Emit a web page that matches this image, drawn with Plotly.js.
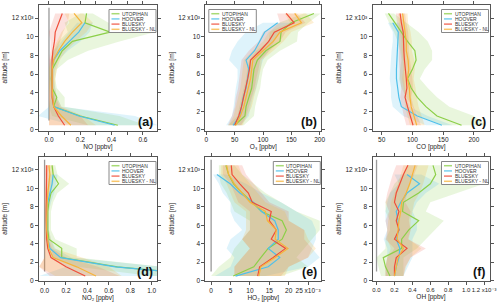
<!DOCTYPE html>
<html><head><meta charset="utf-8">
<script src="https://cdn.plot.ly/plotly-3.0.1.min.js"></script>
<style>html,body{margin:0;padding:0;background:#fff}#chart{width:500px;height:307px}</style>
</head><body><div id="chart"></div>
<script>
// ---------- data ----------
const ALT = [500,1500,2500,3500,4500,5500,6500,7500,8500,9500,10500,11500,12500];
const SERIES = ['UTOPIHAN','HOOVER','BLUESKY','BLUESKY - NL'];
const Y_TICKVALS = [0,2000,4000,6000,8000,10000,12000];
const Y_TICKTEXT = ['0','2','4','6','8','10','12 x10\u00b3'];

// (a) NO [ppbv]
const NO_UTOPIHAN    = [0.44,0.20,0.03,0.05,0.02,0.015,0.02,0.05,0.085,0.15,0.39,0.23,0.24];
const NO_UTOPIHAN_LO = [0.25,0.02,0.0,0.01,0.0,0.0,0.0,0.01,0.03,0.06,0.12,0.10,0.20];
const NO_UTOPIHAN_HI = [0.62,0.45,0.10,0.10,0.05,0.04,0.05,0.12,0.25,0.45,0.68,0.38,0.28];
const NO_HOOVER      = [0.42,0.19,0.03,0.025,0.02,0.02,0.02,0.03,0.07,0.13,0.19,0.23,null];
const NO_HOOVER_LO   = [0.15,-0.07,0.0,0.01,0.01,0.0,0.0,0.01,0.03,0.08,0.13,0.18,null];
const NO_HOOVER_HI   = [0.70,0.55,0.08,0.05,0.04,0.03,0.04,0.06,0.12,0.20,0.26,0.28,null];
const NO_BLUESKY     = [0.10,0.06,0.03,0.02,0.02,0.02,0.02,0.02,0.025,0.035,0.04,0.06,0.085];
const NO_BLUESKY_LO  = [0.0,0.0,0.0,0.0,0.0,0.0,0.0,0.0,0.01,0.01,0.0,0.02,0.04];
const NO_BLUESKY_HI  = [0.25,0.20,0.07,0.04,0.03,0.03,0.03,0.04,0.05,0.07,0.09,0.12,0.13];
const NO_BLUESKY_NL    = [0.14,0.08,0.03,0.025,0.02,0.02,0.02,0.03,0.06,0.10,0.15,0.21,0.16];
const NO_BLUESKY_NL_LO = [0.0,0.0,0.0,0.0,0.0,0.0,0.0,0.01,0.02,0.05,0.08,0.13,0.10];
const NO_BLUESKY_NL_HI = [0.30,0.22,0.08,0.05,0.04,0.04,0.05,0.07,0.11,0.17,0.24,0.28,0.22];

// (b) O3 [ppbv]
const O3_UTOPIHAN    = [50,68,70,75,80,82,84,90,105,130,132,150,190];
const O3_UTOPIHAN_LO = [38,55,58,62,66,70,72,76,88,110,112,128,172];
const O3_UTOPIHAN_HI = [66,84,86,90,95,97,100,108,130,160,162,180,202];
const O3_HOOVER      = [47,59,62,65,70,73,75,70,85,94,103,126,null];
const O3_HOOVER_LO   = [35,45,48,50,52,55,55,40,45,55,70,100,null];
const O3_HOOVER_HI   = [60,75,78,82,88,92,95,100,110,120,130,150,null];
const O3_BLUESKY     = [50,57,62,66,70,73,76,78,95,110,120,155,141];
const O3_BLUESKY_LO  = [38,45,50,52,56,58,60,62,75,92,100,130,125];
const O3_BLUESKY_HI  = [62,70,75,80,85,88,92,95,112,130,140,175,160];
const O3_BLUESKY_NL    = [52,60,66,70,74,78,80,82,100,118,130,168,156];
const O3_BLUESKY_NL_LO = [40,48,52,56,60,62,64,66,82,100,110,148,138];
const O3_BLUESKY_NL_HI = [64,72,80,84,88,92,96,98,118,136,150,190,176];

// (c) CO [ppbv]
const CO_UTOPIHAN    = [180,140,122,108,98,92,100,106,104,92,82,71,61];
const CO_UTOPIHAN_LO = [150,110,100,90,82,78,80,82,80,76,70,62,55];
const CO_UTOPIHAN_HI = [220,200,160,140,125,112,120,132,132,125,110,90,70];
const CO_HOOVER      = [148,108,82,78,76,74,74,75,76,77,77,68,null];
const CO_HOOVER_LO   = [122,85,68,65,65,63,64,65,66,68,68,60,null];
const CO_HOOVER_HI   = [165,125,95,90,88,86,86,86,88,88,88,78,null];
const CO_BLUESKY     = [101,96,92,88,91,90,88,87,86,86,85,82,80];
const CO_BLUESKY_LO  = [90,86,83,80,82,80,79,78,78,78,77,75,73];
const CO_BLUESKY_HI  = [114,108,102,98,101,100,98,96,94,94,93,90,88];
const CO_BLUESKY_NL    = [107,102,98,96,95,92,94,93,90,90,88,85,84];
const CO_BLUESKY_NL_LO = [96,92,88,87,86,83,85,84,82,82,80,78,77];
const CO_BLUESKY_NL_HI = [120,115,110,107,105,102,104,103,99,99,97,93,92];

// (d) NO2 [ppbv]
const NO2_UTOPIHAN    = [1.6,0.68,0.16,0.16,0.04,0.03,0.03,0.03,0.04,0.06,0.13,0.08,0.07];
const NO2_UTOPIHAN_LO = [1.0,0.30,0.08,0.06,0.01,0.0,0.0,0.0,0.01,0.02,0.04,0.04,0.04];
const NO2_UTOPIHAN_HI = [2.2,1.10,0.30,0.30,0.10,0.06,0.06,0.06,0.08,0.12,0.23,0.12,0.10];
const NO2_HOOVER      = [1.6,0.66,0.15,0.05,0.03,0.02,0.02,0.02,0.03,0.05,0.07,0.08,null];
const NO2_HOOVER_LO   = [-0.05,0.20,0.05,0.02,0.01,0.0,0.0,0.0,0.01,0.02,0.03,0.04,null];
const NO2_HOOVER_HI   = [2.2,1.10,0.25,0.10,0.06,0.04,0.04,0.04,0.06,0.09,0.11,0.12,null];
const NO2_BLUESKY     = [0.38,0.20,0.06,0.03,0.02,0.015,0.015,0.015,0.015,0.015,0.02,0.02,0.02];
const NO2_BLUESKY_LO  = [0.05,-0.05,0.0,0.0,0.0,0.0,0.0,0.0,0.0,0.0,0.0,0.0,0.0];
const NO2_BLUESKY_HI  = [0.70,0.50,0.20,0.07,0.04,0.03,0.03,0.03,0.03,0.04,0.05,0.05,0.05];
const NO2_BLUESKY_NL    = [0.48,0.30,0.08,0.04,0.03,0.02,0.02,0.02,0.025,0.03,0.04,0.05,0.04];
const NO2_BLUESKY_NL_LO = [0.10,-0.05,0.0,0.0,0.0,0.0,0.0,0.0,0.0,0.0,0.01,0.01,0.01];
const NO2_BLUESKY_NL_HI = [0.72,0.60,0.35,0.09,0.06,0.04,0.04,0.04,0.05,0.06,0.08,0.09,0.08];

// (e) HO2 [ppbv] x10^-3
const HO2_UTOPIHAN    = [5.7,11,12.8,14.7,18.3,19.4,18.3,13,10.6,8,5.8,4.5,3.8];
const HO2_UTOPIHAN_LO = [0,2,5,6,8,10,10,6,5,4,2.5,2,2];
const HO2_UTOPIHAN_HI = [18,25,22,24,26,28,28,22,18,14,11,8,6];
const HO2_HOOVER      = [6.3,14.7,17.7,14.7,17.3,17.3,16.4,13,10.9,7.4,4.9,1.5,null];
const HO2_HOOVER_LO   = [1,5,6,4,5,8,6,5,5,3,2,0.5,null];
const HO2_HOOVER_HI   = [14,25,28,26,27,27,26,22,18,13,9,4,null];
const HO2_BLUESKY     = [12,12.5,16,19.2,15.5,16.8,15,15.5,10.6,9.6,7.4,5.4,5.2];
const HO2_BLUESKY_LO  = [6,6,8,10,8,10,10,10,7,6,5,3,3];
const HO2_BLUESKY_HI  = [18,20,25,26,24,24,20,20,15,13,11,9,8];
const HO2_BLUESKY_NL    = [12.3,12.8,16.5,19.8,16.5,16.8,14.5,14,10,8,6,4.5,4];
const HO2_BLUESKY_NL_LO = [6,6,8,10,8,9,9,9,6,5,4,2.5,2.5];
const HO2_BLUESKY_NL_HI = [19,20,25,27,25,24,20,19,14,12,10,8,7];

// (f) OH [ppbv] x10^-3
const OH_UTOPIHAN    = [0.15,0.10,0.075,0.28,0.28,0.36,0.47,0.29,0.30,0.47,0.60,0.66,0.63];
const OH_UTOPIHAN_LO = [0.05,0.02,0.0,0.10,0.10,0.15,0.15,0.10,0.10,0.15,0.20,0.30,0.35];
const OH_UTOPIHAN_HI = [0.30,0.30,0.30,0.45,0.55,0.65,0.75,0.55,0.60,0.90,1.20,1.00,0.90];
const OH_HOOVER      = [0.20,0.22,0.25,0.26,0.22,0.25,0.24,0.22,0.27,0.34,0.48,0.34,null];
const OH_HOOVER_LO   = [0.10,0.10,0.12,0.12,0.08,0.12,0.10,0.10,0.12,0.15,0.25,0.20,null];
const OH_HOOVER_HI   = [0.30,0.35,0.40,0.40,0.40,0.45,0.45,0.40,0.45,0.55,0.70,0.50,null];
const OH_BLUESKY     = [0.20,0.20,0.22,0.34,0.20,0.25,0.22,0.25,0.20,0.22,0.26,0.30,0.35];
const OH_BLUESKY_LO  = [0.10,0.10,0.12,0.20,0.10,0.12,0.10,0.14,0.10,0.12,0.15,0.18,0.22];
const OH_BLUESKY_HI  = [0.30,0.32,0.38,0.55,0.35,0.38,0.36,0.38,0.32,0.34,0.38,0.42,0.46];
const OH_BLUESKY_NL    = [0.20,0.22,0.24,0.30,0.23,0.24,0.25,0.27,0.28,0.33,0.37,0.40,0.43];
const OH_BLUESKY_NL_LO = [0.10,0.10,0.12,0.16,0.12,0.12,0.13,0.15,0.16,0.20,0.24,0.27,0.30];
const OH_BLUESKY_NL_HI = [0.30,0.33,0.38,0.50,0.36,0.38,0.38,0.40,0.42,0.48,0.52,0.55,0.58];

// x-axis ticks
const NO_TICKS  = [0,0.2,0.4,0.6],       NO_LABELS  = ['0.0','0.2','0.4','0.6'];
const O3_TICKS  = [0,50,100,150,200],    O3_LABELS  = ['0','50','100','150','200'];
const CO_TICKS  = [50,100,150,200],      CO_LABELS  = ['50','100','150','200'];
const NO2_TICKS = [0,0.2,0.4,0.6,0.8,1.0], NO2_LABELS = ['0.0','0.2','0.4','0.6','0.8','1.0'];
const HO2_TICKS = [0,5,10,15,20,25],     HO2_LABELS = ['0','5','10','15','20','25 x10\u207b\u00b3'];
const OH_TICKS  = [0,0.2,0.4,0.6,0.8,1.0,1.2], OH_LABELS = ['0.0','0.2','0.4','0.6','0.8','1.0','1.2 x10\u207b\u00b3'];

// ---------- style ----------
const FONT = 'Liberation Sans, Arial, DejaVu Sans, sans-serif';
const LINE_COLORS = ['#8ccf48','#4fc0ea','#f04e3a','#f7b43a'];
const BAND_COLORS = ['rgba(140,207,72,0.19)','rgba(79,192,234,0.19)','rgba(240,78,58,0.17)','rgba(247,180,58,0.21)'];
const W = 500, H = 307;
const COLS = [[0.0776,0.314],[0.4106,0.6426],[0.745,0.979]];
const ROWS = [[0.5749,0.9853],[0.084,0.4902]];
const YRANGE = [-60, 13460];
const ZERO_LINE_SPAN = [1000, 13100];

const PANELS = [
  {label:'(a)', title:'NO [ppbv]', range:[-0.065,0.69], tv:NO_TICKS, tt:NO_LABELS, minor:0.1, zero:true, legLeft:false, tfs:6.5,
   d:[[NO_UTOPIHAN,NO_UTOPIHAN_LO,NO_UTOPIHAN_HI],[NO_HOOVER,NO_HOOVER_LO,NO_HOOVER_HI],[NO_BLUESKY,NO_BLUESKY_LO,NO_BLUESKY_HI],[NO_BLUESKY_NL,NO_BLUESKY_NL_LO,NO_BLUESKY_NL_HI]]},
  {label:'(b)', title:'O\u2083 [ppbv]', range:[-2,203], tv:O3_TICKS, tt:O3_LABELS, zero:false, legLeft:true, tfs:6.5,
   d:[[O3_UTOPIHAN,O3_UTOPIHAN_LO,O3_UTOPIHAN_HI],[O3_HOOVER,O3_HOOVER_LO,O3_HOOVER_HI],[O3_BLUESKY,O3_BLUESKY_LO,O3_BLUESKY_HI],[O3_BLUESKY_NL,O3_BLUESKY_NL_LO,O3_BLUESKY_NL_HI]]},
  {label:'(c)', title:'CO [ppbv]', range:[35,225.5], tv:CO_TICKS, tt:CO_LABELS, zero:false, legLeft:false, tfs:6.5,
   d:[[CO_UTOPIHAN,CO_UTOPIHAN_LO,CO_UTOPIHAN_HI],[CO_HOOVER,CO_HOOVER_LO,CO_HOOVER_HI],[CO_BLUESKY,CO_BLUESKY_LO,CO_BLUESKY_HI],[CO_BLUESKY_NL,CO_BLUESKY_NL_LO,CO_BLUESKY_NL_HI]]},
  {label:'(d)', title:'NO\u2082 [ppbv]', range:[-0.054,1.05], tv:NO2_TICKS, tt:NO2_LABELS, zero:true, legLeft:false, tfs:6.5,
   d:[[NO2_UTOPIHAN,NO2_UTOPIHAN_LO,NO2_UTOPIHAN_HI],[NO2_HOOVER,NO2_HOOVER_LO,NO2_HOOVER_HI],[NO2_BLUESKY,NO2_BLUESKY_LO,NO2_BLUESKY_HI],[NO2_BLUESKY_NL,NO2_BLUESKY_NL_LO,NO2_BLUESKY_NL_HI]]},
  {label:'(e)', title:'HO\u2082 [ppbv]', range:[-1.5,28.4], tv:HO2_TICKS, tt:HO2_LABELS, zero:true, legLeft:false, tfs:6.5,
   d:[[HO2_UTOPIHAN,HO2_UTOPIHAN_LO,HO2_UTOPIHAN_HI],[HO2_HOOVER,HO2_HOOVER_LO,HO2_HOOVER_HI],[HO2_BLUESKY,HO2_BLUESKY_LO,HO2_BLUESKY_HI],[HO2_BLUESKY_NL,HO2_BLUESKY_NL_LO,HO2_BLUESKY_NL_HI]]},
  {label:'(f)', title:'OH [ppbv]', range:[-0.045,1.26], tv:OH_TICKS, tt:OH_LABELS, zero:true, legLeft:false, tfs:6,
   d:[[OH_UTOPIHAN,OH_UTOPIHAN_LO,OH_UTOPIHAN_HI],[OH_HOOVER,OH_HOOVER_LO,OH_HOOVER_HI],[OH_BLUESKY,OH_BLUESKY_LO,OH_BLUESKY_HI],[OH_BLUESKY_NL,OH_BLUESKY_NL_LO,OH_BLUESKY_NL_HI]]}
];

const traces = [];
const layout = {
  width: W, height: H, margin:{l:0,r:0,t:0,b:0,pad:0},
  paper_bgcolor:'#fff', plot_bgcolor:'#fff', showlegend:false,
  font:{family:FONT, size:6.5, color:'#222'},
  shapes:[], annotations:[]
};

PANELS.forEach((P, p) => {
  const col = p % 3, row = Math.floor(p / 3);
  const sfx = p === 0 ? '' : String(p + 1);
  const xa = 'x' + sfx, ya = 'y' + sfx;
  const pw = (COLS[col][1] - COLS[col][0]) * W;
  const ph = (ROWS[row][1] - ROWS[row][0]) * H;
  const dx = v => v / pw, dy = v => v / ph;

  const common = {showline:true, linecolor:'#555', linewidth:1, mirror:'ticks', ticks:'outside',
    ticklen:3, tickwidth:1, tickcolor:'#555', showgrid:false, zeroline:false, automargin:false,
    fixedrange:true, tickangle:0, ticklabeloverflow:'allow', tickfont:{family:FONT, size:6.5, color:'#222'}};

  layout['xaxis' + sfx] = Object.assign({}, common, {
    domain: COLS[col], anchor: ya, range: P.range, tickmode:'array', tickvals:P.tv, ticktext:P.tt,
    tickfont:{family:FONT, size:P.tfs, color:'#222'},
    title:{text:P.title, font:{family:FONT, size:6.5, color:'#222'}, standoff:0}
  });
  if (P.minor) layout['xaxis' + sfx].minor = {tickmode:'linear', tick0:0, dtick:P.minor, ticklen:3, tickcolor:'#555', ticks:'outside'};
  layout['yaxis' + sfx] = Object.assign({}, common, {
    domain: ROWS[row], anchor: xa, range: YRANGE, tickmode:'array', tickvals:Y_TICKVALS, ticktext:Y_TICKTEXT,
    title:{text:'altitude [m]', font:{family:FONT, size:6.5, color:'#222'}, standoff:3}
  });

  // bands
  P.d.forEach((s, k) => {
    const [val, lo, hi] = s;
    const idx = ALT.map((a, i) => i).filter(i => val[i] !== null && lo[i] !== null && hi[i] !== null);
    const bx = idx.map(i => lo[i]).concat(idx.slice().reverse().map(i => hi[i]));
    const by = idx.map(i => ALT[i]).concat(idx.slice().reverse().map(i => ALT[i]));
    traces.push({type:'scatter', mode:'none', x:bx, y:by, xaxis:xa, yaxis:ya, fill:'toself',
      fillcolor:BAND_COLORS[k], hoverinfo:'skip', showlegend:false});
  });
  // lines
  P.d.forEach((s, k) => {
    const val = s[0];
    const idx = ALT.map((a, i) => i).filter(i => val[i] !== null);
    traces.push({type:'scatter', mode:'lines', name:SERIES[k], x:idx.map(i => val[i]), y:idx.map(i => ALT[i]),
      xaxis:xa, yaxis:ya, line:{color:LINE_COLORS[k], width:1.2}, showlegend:false});
  });

  // zero reference line
  if (P.zero) layout.shapes.push({type:'line', xref:xa, yref:ya, x0:0, x1:0, y0:ZERO_LINE_SPAN[0], y1:ZERO_LINE_SPAN[1],
    line:{color:'#9a9a9a', width:1.3}, layer:'below'});

  // legend box
  const xr = xa + ' domain', yr = ya + ' domain';
  const bx0 = P.legLeft ? dx(3.5) : 1 - dx(48);
  const bx1 = P.legLeft ? dx(51) : 1 - dx(1);
  layout.shapes.push({type:'rect', xref:xr, yref:yr, x0:bx0, x1:bx1, y0:1 - dy(28), y1:1 - dy(5),
    fillcolor:'#fff', line:{color:'#888', width:1}, layer:'above'});
  SERIES.forEach((name, k) => {
    const yc = 1 - dy(9.2 + 5.2 * k);
    layout.shapes.push({type:'line', xref:xr, yref:yr, x0:bx0 + dx(2.5), x1:bx0 + dx(10.5), y0:yc, y1:yc,
      line:{color:LINE_COLORS[k], width:1.5}, opacity:0.75, layer:'above'});
    layout.annotations.push({xref:xr, yref:yr, x:bx0 + dx(12), y:yc, xanchor:'left', yanchor:'middle',
      text:name, showarrow:false, font:{family:FONT, size:5, color:'#333'}, borderpad:0});
  });
  // panel label
  layout.annotations.push({xref:xr, yref:yr, x:1 - dx(3), y:dy(1), xanchor:'right', yanchor:'bottom',
    text:'<b>' + P.label + '</b>', showarrow:false, font:{family:FONT, size:12.5, color:'#111'}, borderpad:0});
});

Plotly.newPlot('chart', traces, layout, {staticPlot:true, displayModeBar:false});
</script>
</body></html>
